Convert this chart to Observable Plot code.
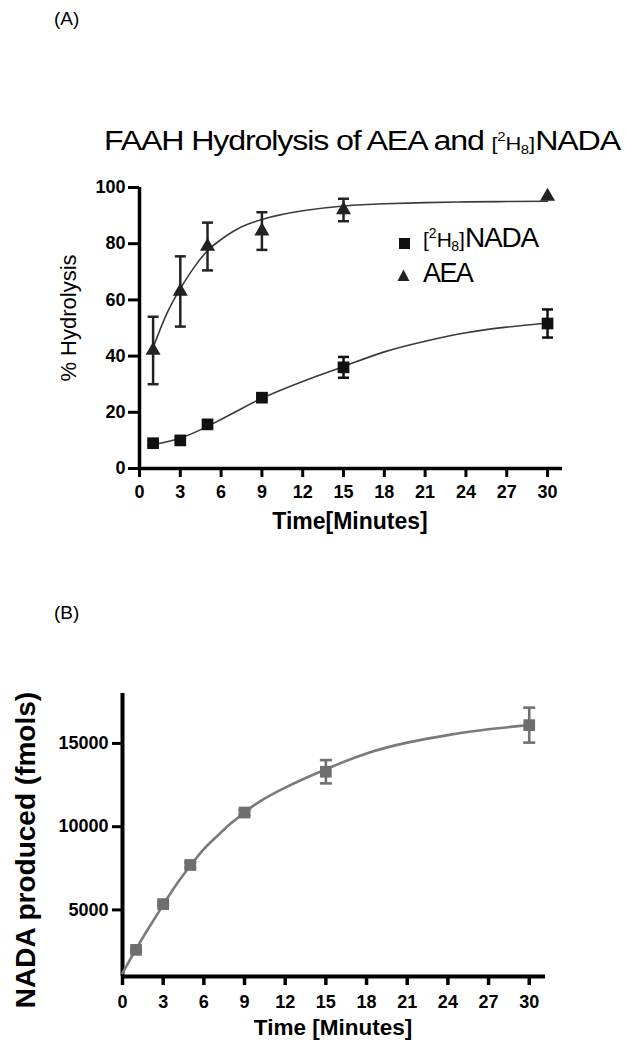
<!DOCTYPE html>
<html><head><meta charset="utf-8">
<script src="https://cdn.jsdelivr.net/npm/d3@7"></script>
<script src="https://cdn.jsdelivr.net/npm/@observablehq/plot@0.6"></script>
<style>
html,body{margin:0;padding:0;background:#fff;}
#page{position:relative;width:625px;height:1050px;overflow:hidden;background:#fff;}
#page > svg{position:absolute;left:0;}
</style></head><body><div id="page"></div>
<script>
// ---------- Panel A data ----------
const timeA = [1, 3, 5, 9, 15, 30];
const nadaA = [9, 10, 15.7, 25.2, 36, 51.6];
const nadaAErr = [0.8, 0.8, 1, 1, 3.7, 5];
const aeaA = [42, 63, 79, 84.5, 92, 96.8];
const aeaAErr = [12, 12.5, 8.5, 6.7, 4, 0];
// fitted curves
const nadaFitT = [1, 3, 5, 7, 9, 12, 15, 18, 21, 24, 27, 30];
const nadaFitY = [8.5, 10.8, 15, 20, 25, 31, 36.3, 41.5, 45.3, 48.3, 50.3, 51.8];
const aeaFitT = [1, 2, 3, 4, 5, 6, 7, 8, 9, 10, 12, 15, 18, 21, 24, 27, 30];
const aeaFitY = [43, 55, 64, 71.5, 77.5, 81.5, 84.7, 87, 88.6, 89.9, 91.7, 93.4, 94.2, 94.6, 94.9, 95, 95.1];
const xTicks = [0, 3, 6, 9, 12, 15, 18, 21, 24, 27, 30];
const yTicksA = [0, 20, 40, 60, 80, 100];

// ---------- Panel B data ----------
const timeB = [1, 3, 5, 9, 15, 30];
const nadaB = [2600, 5350, 7700, 10850, 13300, 16100];
const nadaBErr = [100, 100, 150, 150, 700, 1050];
const fitBT = [0, 1, 2, 3, 4, 5, 6, 7, 8, 9, 10, 12, 15, 18, 21, 24, 27, 30];
const fitBY = [1200, 2650, 4000, 5300, 6550, 7650, 8650, 9450, 10200, 10850, 11450, 12350, 13450, 14400, 15050, 15500, 15850, 16100];
const yTicksB = [5000, 10000, 15000];

// ---------- tables ----------
const rowsNadaA = timeA.map((t, i) => ({t, v: nadaA[i], lo: nadaA[i] - nadaAErr[i], hi: nadaA[i] + nadaAErr[i]}));
const rowsAeaA = timeA.map((t, i) => ({t, v: aeaA[i], lo: aeaA[i] - aeaAErr[i], hi: aeaA[i] + aeaAErr[i]}));
const fitNadaA = nadaFitT.map((t, i) => ({t, v: nadaFitY[i]}));
const fitAeaA = aeaFitT.map((t, i) => ({t, v: aeaFitY[i]}));
const rowsB = timeB.map((t, i) => ({t, v: nadaB[i], lo: nadaB[i] - nadaBErr[i], hi: nadaB[i] + nadaBErr[i]}));
const fitB = fitBT.map((t, i) => ({t, v: fitBY[i]}));

const capSymbol = {draw(ctx, size) { const w = Math.sqrt(size / Math.PI); ctx.moveTo(-w, 0); ctx.lineTo(w, 0); }};
const FONT = '"Liberation Sans", Arial, Helvetica, sans-serif';

const errMarks = (rows, color, sw, capR) => {
  const r = rows.filter(d => d.hi > d.lo);
  return [
    Plot.ruleX(r, {x: "t", y1: "lo", y2: "hi", stroke: color, strokeWidth: sw}),
    Plot.dot(r, {x: "t", y: "lo", symbol: capSymbol, r: capR, stroke: color, strokeWidth: sw, fill: "none"}),
    Plot.dot(r, {x: "t", y: "hi", symbol: capSymbol, r: capR, stroke: color, strokeWidth: sw, fill: "none"})
  ];
};

const plotA = Plot.plot({
  width: 625, height: 348,
  marginLeft: 139, marginRight: 63, marginTop: 27, marginBottom: 40,
  x: {domain: [0, 31.1]},
  y: {domain: [0, 100]},
  style: {fontFamily: FONT, fontSize: "18px", fontWeight: "bold", color: "#000", background: "transparent", overflow: "visible"},
  marks: [
    Plot.axisX(xTicks, {tickSize: 9, tickPadding: 8, strokeWidth: 3, label: null, tickFormat: d3.format("d")}),
    Plot.axisY(yTicksA, {tickSize: 11, tickPadding: 3, strokeWidth: 3, label: null, tickFormat: d3.format("d")}),
    Plot.ruleY([0], {stroke: "#000", strokeWidth: 3.5}),
    Plot.ruleX([0], {stroke: "#000", strokeWidth: 3.5}),
    Plot.line(fitAeaA, {x: "t", y: "v", curve: "natural", stroke: "#3a3a3a", strokeWidth: 1.6}),
    Plot.line(fitNadaA, {x: "t", y: "v", curve: "natural", stroke: "#3a3a3a", strokeWidth: 1.6}),
    ...errMarks(rowsAeaA, "#222", 2.5, 5.5),
    ...errMarks(rowsNadaA, "#111", 2.5, 5.5),
    Plot.dot(rowsAeaA, {x: "t", y: "v", symbol: "triangle", r: 5.6, fill: "#222", stroke: "none"}),
    Plot.dot(rowsNadaA, {x: "t", y: "v", symbol: "square", r: 6.6, fill: "#111", stroke: "none"})
  ]
});
plotA.style.top = "160px";

const plotB = Plot.plot({
  width: 625, height: 356,
  marginLeft: 122, marginRight: 80, marginTop: 13, marginBottom: 60,
  x: {domain: [0, 31.2]},
  y: {domain: [1000, 18000]},
  style: {fontFamily: FONT, fontSize: "18px", fontWeight: "bold", color: "#000", background: "transparent", overflow: "visible"},
  marks: [
    Plot.axisX(xTicks, {tickSize: 9, tickPadding: 10, strokeWidth: 3.5, label: null, tickFormat: d3.format("d")}),
    Plot.axisY(yTicksB, {tickSize: 10, tickPadding: 4, strokeWidth: 3, label: null, tickFormat: d3.format("d")}),
    Plot.ruleY([1000], {stroke: "#000", strokeWidth: 4}),
    Plot.ruleX([0], {stroke: "#000", strokeWidth: 4}),
    Plot.line(fitB, {x: "t", y: "v", curve: "natural", stroke: "#7a7a7a", strokeWidth: 2.6}),
    ...errMarks(rowsB, "#707070", 2.6, 6),
    Plot.dot(rowsB, {x: "t", y: "v", symbol: "square", r: 6.6, fill: "#6e6e6e", stroke: "none"})
  ]
});
plotB.style.top = "680px";

const page = document.getElementById("page");
page.appendChild(plotA);
page.appendChild(plotB);

// ---------- text overlay ----------
const ns = "http://www.w3.org/2000/svg";
const ov = document.createElementNS(ns, "svg");
ov.setAttribute("width", 625); ov.setAttribute("height", 1050);
ov.style.top = "0px"; ov.style.pointerEvents = "none";
ov.setAttribute("font-family", FONT);
ov.innerHTML = `
<text x="54" y="25" font-size="19">(A)</text>
<text transform="translate(104,150) scale(1.15,1)" font-size="28" letter-spacing="-1">FAAH Hydrolysis of AEA and <tspan font-size="19" letter-spacing="-0.3">[</tspan><tspan font-size="13" dy="-9" letter-spacing="0">2</tspan><tspan font-size="19" dy="9" letter-spacing="-0.5">H</tspan><tspan font-size="13" dy="4" letter-spacing="0">8</tspan><tspan font-size="19" dy="-4" letter-spacing="0">]</tspan><tspan font-size="28">NADA</tspan></text>
<rect x="399" y="238" width="11" height="11" fill="#111"/>
<path d="M403.5,269.5 L409.5,281 L397.5,281 Z" fill="#222"/>
<text x="423" y="247" font-size="28" letter-spacing="-1.2"><tspan font-size="21" letter-spacing="0">[</tspan><tspan font-size="14" dy="-9" letter-spacing="0">2</tspan><tspan font-size="21" dy="9" letter-spacing="-0.5">H</tspan><tspan font-size="14" dy="4" letter-spacing="0">8</tspan><tspan font-size="21" dy="-4" letter-spacing="0">]</tspan>NADA</text>
<text x="423" y="282" font-size="27" letter-spacing="-1.6">AEA</text>
<text x="350" y="529" font-size="23" font-weight="bold" text-anchor="middle">Time[Minutes]</text>
<text transform="translate(76,318) rotate(-90)" font-size="22" text-anchor="middle">% Hydrolysis</text>
<text x="54" y="619" font-size="19">(B)</text>
<text transform="translate(35,850) rotate(-90)" font-size="28" font-weight="bold" text-anchor="middle">NADA produced (fmols)</text>
<text x="333" y="1035" font-size="22.5" font-weight="bold" text-anchor="middle">Time [Minutes]</text>
`;
page.appendChild(ov);
</script>
</body></html>
